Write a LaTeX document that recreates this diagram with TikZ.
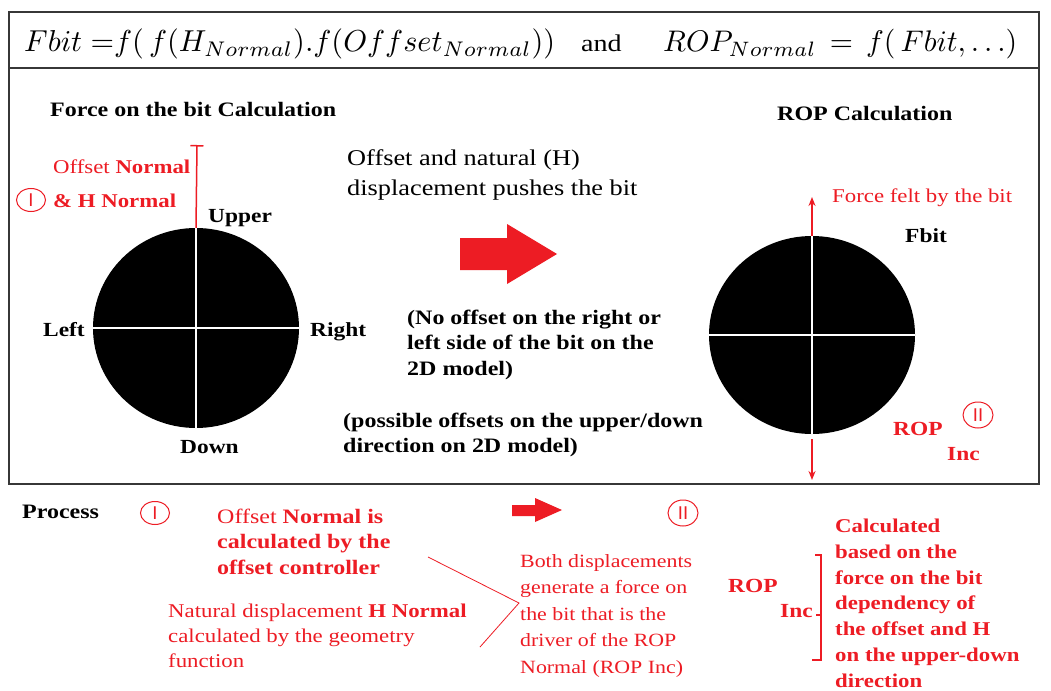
\documentclass[tikz,border=0pt]{standalone}
\usepackage{graphicx}
\usepackage{fontspec}
\setmainfont[FakeStretch=1.17]{Liberation Serif}
\newfontfamily\numfont{Liberation Sans}
\usetikzlibrary{arrows.meta,shapes.geometric}
\definecolor{myred}{RGB}{237,28,36}
\definecolor{framecol}{RGB}{55,55,55}
\newcommand\myfs[2]{\fontsize{#1}{#2}\selectfont}
\begin{document}
\begin{tikzpicture}[x=1pt,y=-1pt,
  txt/.style={anchor=base west,inner sep=0pt,align=left},
  bl/.style={txt,font=\bfseries\myfs{20.5}{25.5}},
  lbl/.style={txt,font=\bfseries\myfs{20}{24}},
  rtxt/.style={txt,text=myred},
  rbl/.style={txt,text=myred,font=\bfseries\myfs{20}{24}},
  roman/.style={draw=myred,ellipse,line width=1pt,minimum width=29pt,minimum height=23pt,inner sep=0pt,text=myred,font=\numfont\myfs{18.5}{18.5}},
  bitdisk/.style={ellipse,fill=black,inner sep=0pt},
  cross/.style={white,line width=1.5pt},
  redline/.style={myred,line width=1.5pt},
  frameline/.style={framecol,line width=2pt}]
\useasboundingbox (0,0) rectangle (1051,690);
\fill[white] (0,0) rectangle (1051,690);

% frame
\draw[frameline] (8.5,12) rectangle (1039,484);
\draw[frameline] (8.5,68) -- (1039,68);

% formula (multi-line nodes below are placed at the baseline of their last line)
\node[txt] (f1) at (24,52) {\resizebox{531pt}{!}{$Fbit\;{=}f(\,f(H_{Normal}).f(Offset_{Normal}))$}};
\node[txt,font=\myfs{24}{24}] (andw) at (581,52) {and};
\node[txt] (f2) at (663,52) {\resizebox{354pt}{!}{$ROP_{Normal}\,=\,f(\,Fbit,\dots)$}};

% titles
\node[bl] (t1) at (50,117) {Force on the bit Calculation};
\node[bl] (t2) at (777,121) {ROP Calculation};

% left disk
\node[bitdisk,minimum width=206pt,minimum height=200pt] (bitL) at (196,328) {};
\draw[cross] (bitL.west) -- (bitL.east);
\draw[cross] (bitL.north) -- (bitL.south);
\coordinate (offtop) at (197,145);
\draw[redline,-{Bar[width=13pt,line width=1.5pt]}] (bitL.north) -- (offtop);
\node[rtxt,font=\myfs{19.5}{34}] (offN) at (53,207) {Offset \textbf{Normal}\\\textbf{\& H Normal}};
\node[roman] (r1a) at (31,200) {I};
\node[lbl] (upper) at (208,222) {Upper};
\node[lbl] (left) at (43,336) {Left};
\node[lbl] (right) at (310,336) {Right};
\node[lbl] (down) at (180,453) {Down};

% middle texts
\node[txt,font=\myfs{22.5}{30}] (push) at (347,195) {Offset and natural (H)\\displacement pushes the bit};
\fill[myred] (460,238) -- (507,238) -- (507,224) -- (557,254) -- (507,284) -- (507,270) -- (460,270) -- cycle;
\node[bl] (noff) at (407,375) {(No offset on the right or\\left side of the bit on the\\2D model)};
\node[bl,font=\bfseries\myfs{20.5}{25}] (poss) at (343,452) {(possible offsets on the upper/down\\direction on 2D model)};

% right disk
\node[bitdisk,minimum width=206pt,minimum height=198pt] (bitR) at (812,335) {};
\draw[cross] (bitR.west) -- (bitR.east);
\draw[cross] (bitR.north) -- (bitR.south);
\coordinate (fup) at (812,197);
\coordinate (fdown) at (812,480);
\draw[redline,-{Stealth[length=9pt,width=7pt]}] (bitR.north) -- (fup);
\draw[redline,-{Stealth[length=9pt,width=7pt]}] ([yshift=-5pt]bitR.south) -- (fdown);
\node[rtxt,font=\myfs{19.5}{24}] (felt) at (832,202) {Force felt by the bit};
\node[lbl] (fbit) at (905,242) {Fbit};
\node[rbl] (ropa) at (893,435) {ROP};
\node[rbl] (inca) at (947,460) {Inc};
\node[roman,minimum width=30pt,minimum height=26pt] (r2a) at (978,415) {II};

% process
\node[bl] (proc) at (22,518) {Process};
\node[roman] (r1b) at (155,513) {I};
\node[rtxt,font=\myfs{20.5}{25.5}] (offc) at (217,574) {Offset \textbf{Normal is}\\\textbf{calculated by the}\\\textbf{offset controller}};
\node[rtxt,font=\myfs{19.5}{25}] (natd) at (168,667) {Natural displacement \textbf{H Normal}\\calculated by the geometry\\function};
\coordinate (l1) at (428,557);
\coordinate (vtx) at (519,603);
\coordinate (l2) at (480,647);
\draw[myred,line width=0.8pt] (l1) -- (vtx) -- (l2);
\fill[myred] (512,505) -- (535,505) -- (535,498) -- (562,510) -- (535,522) -- (535,516) -- (512,516) -- cycle;
\node[roman,minimum width=30pt,minimum height=26pt] (r2b) at (683,513) {II};
\node[rtxt,font=\myfs{18.7}{26.5}] (both) at (520,673) {Both displacements\\generate a force on\\the bit that is the\\driver of the ROP\\Normal (ROP Inc)};
\node[rbl] (ropb) at (728,592) {ROP};
\node[rbl] (incb) at (780,617) {Inc};
\draw[redline] (815,555) -- (821,555) -- (821,660) -- (812,660);
\draw[redline] (816,615) -- (821,615);
\node[rtxt,font=\bfseries\myfs{19.5}{25.7}] (calc) at (835,687) {Calculated\\based on the\\force on the bit\\dependency of\\the offset and H\\on the upper-down\\direction};
\end{tikzpicture}
\end{document}
